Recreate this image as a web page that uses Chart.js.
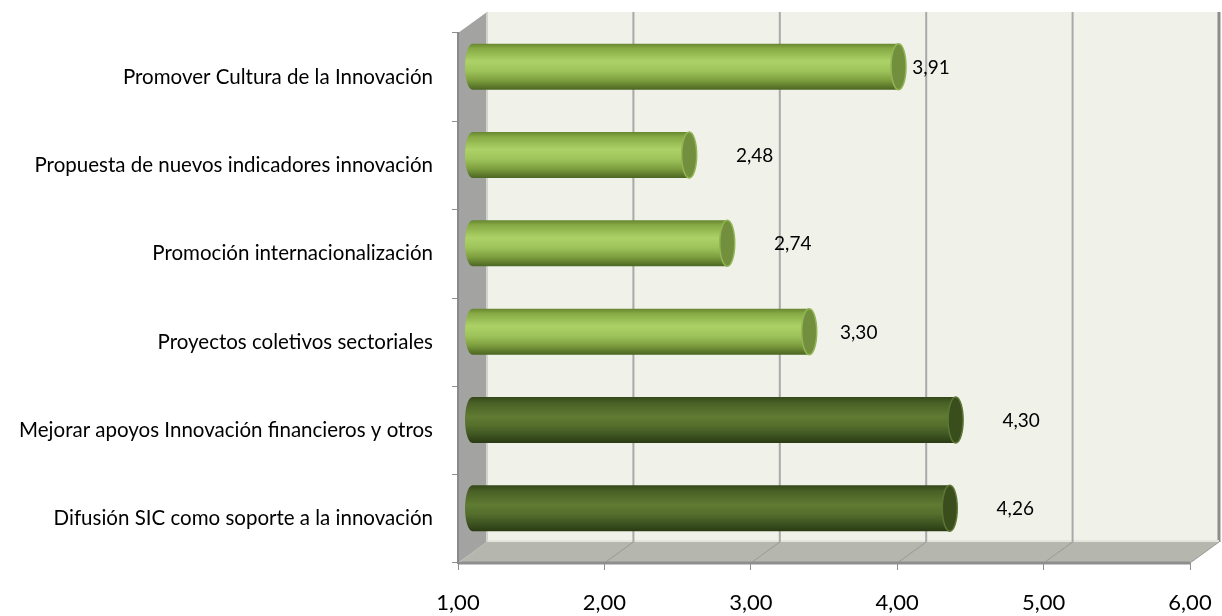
<!DOCTYPE html>
<html lang="es">
<head>
<meta charset="utf-8">
<title>Valoración de actuaciones</title>
<script src="https://cdn.jsdelivr.net/npm/chart.js@4.4.1/dist/chart.umd.min.js"></script>
<style>
  html, body { margin: 0; padding: 0; background: #fff; }
  canvas { display: block; }
</style>
</head>
<body>
<canvas id="chart" width="1222" height="616"></canvas>
<script>
const categories = [
  'Promover Cultura de la Innovación',
  'Propuesta de nuevos indicadores innovación',
  'Promoción internacionalización',
  'Proyectos coletivos sectoriales',
  'Mejorar apoyos Innovación financieros y otros',
  'Difusión SIC como soporte a la innovación'
];
const scores = [3.91, 2.48, 2.74, 3.30, 4.30, 4.26];
const axisTicks = [1, 2, 3, 4, 5, 6];

// oblique depth of the 3D box (back wall offset from the front plane)
const DEPTH_X = 29;
const DEPTH_Y = -21;

const fmt = (v) => v.toFixed(2).replace('.', ',');

const TONES = {
  light: {
    stops: [[0, '#66862f'], [0.1, '#86a944'], [0.38, '#acd267'], [0.6, '#9dc25a'],
            [0.8, '#7d9e3e'], [0.92, '#5f7c2d'], [1, '#4c6623']],
    cap: '#718f3d', capEdge: '#93b554'
  },
  dark: {
    stops: [[0, '#33471a'], [0.12, '#485f25'], [0.42, '#607b33'], [0.62, '#556f2c'],
            [0.85, '#3b5120'], [1, '#2a3a13']],
    cap: '#394e1c', capEdge: '#5d7634'
  }
};

function drawCylinder(ctx, x0, x1, yc, h, tone) {
  const top = yc - h / 2;
  const rx = 7.5;
  const g = ctx.createLinearGradient(0, top, 0, top + h);
  tone.stops.forEach(([p, c]) => g.addColorStop(p, c));
  ctx.fillStyle = g;
  ctx.beginPath();
  ctx.moveTo(x0, top);
  ctx.lineTo(x1, top);
  ctx.lineTo(x1, top + h);
  ctx.lineTo(x0, top + h);
  ctx.ellipse(x0, yc, rx, h / 2, 0, Math.PI / 2, Math.PI * 1.5);
  ctx.closePath();
  ctx.fill();

  ctx.beginPath();
  ctx.ellipse(x1, yc, rx, h / 2, 0, 0, Math.PI * 2);
  ctx.fillStyle = tone.cap;
  ctx.fill();
  ctx.lineWidth = 1.5;
  ctx.strokeStyle = tone.capEdge;
  ctx.stroke();
}

// walls and floor of the 3D box
const boxPlugin = {
  id: 'box3d',
  beforeDraw(chart) {
    const { ctx, chartArea: a, scales: { x } } = chart;
    const bx = DEPTH_X, by = DEPTH_Y;
    ctx.save();

    // back wall
    ctx.fillStyle = '#f0f2ea';
    ctx.fillRect(a.left + bx, a.top + by, a.right - a.left, a.bottom - a.top);
    ctx.strokeStyle = '#8c8c8c';
    ctx.lineWidth = 3;
    ctx.beginPath();
    ctx.moveTo(a.right + bx, a.top + by);
    ctx.lineTo(a.right + bx, a.bottom + by);
    ctx.stroke();

    // floor
    ctx.fillStyle = '#b5b6ae';
    ctx.beginPath();
    ctx.moveTo(a.left, a.bottom);
    ctx.lineTo(a.right, a.bottom);
    ctx.lineTo(a.right + bx, a.bottom + by);
    ctx.lineTo(a.left + bx, a.bottom + by);
    ctx.closePath();
    ctx.fill();
    ctx.fillStyle = '#e4e6de';
    ctx.fillRect(a.left + bx, a.bottom + by - 2, a.right - a.left, 2);

    // grid lines on back wall and floor
    axisTicks.slice(1, -1).forEach((t) => {
      const px = x.getPixelForValue(t);
      ctx.strokeStyle = '#a9a9a9';
      ctx.lineWidth = 2;
      ctx.beginPath();
      ctx.moveTo(px + bx, a.top + by);
      ctx.lineTo(px + bx, a.bottom + by);
      ctx.stroke();
      ctx.strokeStyle = '#9a9a94';
      ctx.lineWidth = 1;
      ctx.beginPath();
      ctx.moveTo(px + bx, a.bottom + by);
      ctx.lineTo(px, a.bottom);
      ctx.stroke();
    });
    ctx.strokeStyle = '#9a9a94';
    ctx.lineWidth = 1;
    ctx.beginPath();
    ctx.moveTo(a.right + bx, a.bottom + by);
    ctx.lineTo(a.right, a.bottom);
    ctx.stroke();

    // front edge of floor
    ctx.strokeStyle = '#8e8e8e';
    ctx.lineWidth = 3;
    ctx.beginPath();
    ctx.moveTo(a.left, a.bottom);
    ctx.lineTo(a.right, a.bottom);
    ctx.stroke();

    // left wall
    ctx.fillStyle = '#a3a3a1';
    ctx.beginPath();
    ctx.moveTo(a.left, a.top);
    ctx.lineTo(a.left + bx, a.top + by);
    ctx.lineTo(a.left + bx, a.bottom + by);
    ctx.lineTo(a.left, a.bottom);
    ctx.closePath();
    ctx.fill();
    ctx.fillStyle = '#d2d3cd';
    ctx.fillRect(a.left + bx - 1, a.top + by, 2, a.bottom - a.top);
    ctx.strokeStyle = '#bdbdb8';
    ctx.lineWidth = 1;
    ctx.beginPath();
    ctx.moveTo(a.left + bx, a.bottom + by);
    ctx.lineTo(a.left + 2, a.bottom - 1);
    ctx.stroke();

    ctx.restore();
  }
};

// cylinders sit halfway into the box, values written beside them
const cylinderPlugin = {
  id: 'cylinders',
  afterDatasetsDraw(chart, args, opts) {
    const { ctx, scales: { x } } = chart;
    const meta = chart.getDatasetMeta(0);
    const dx = DEPTH_X / 2, dy = DEPTH_Y / 2;
    const base = x.getPixelForValue(axisTicks[0]);
    ctx.save();
    meta.data.forEach((bar, i) => {
      const tone = TONES[opts.tones[i]];
      drawCylinder(ctx, base + dx, bar.x + dx, bar.y + dy, bar.height, tone);
    });
    ctx.font = '19px Lato';
    ctx.fillStyle = '#000';
    ctx.textAlign = 'center';
    ctx.textBaseline = 'middle';
    meta.data.forEach((bar, i) => {
      const lx = bar.x + opts.labelGap + (opts.labelNudge[i] || 0);
      ctx.fillText(fmt(scores[i]), lx, bar.y + dy + 1);
    });
    ctx.restore();
  }
};

new Chart(document.getElementById('chart'), {
  type: 'bar',
  data: {
    labels: categories,
    datasets: [{
      data: scores,
      backgroundColor: 'rgba(0,0,0,0)',
      borderWidth: 0,
      barPercentage: 0.52,
      categoryPercentage: 1
    }]
  },
  options: {
    indexAxis: 'y',
    responsive: false,
    devicePixelRatio: 1,
    animation: false,
    layout: { padding: { top: 33, right: 32, left: 0, bottom: 0 } },
    plugins: {
      legend: { display: false },
      tooltip: { enabled: false },
      cylinders: {
        tones: ['light', 'light', 'light', 'light', 'dark', 'dark'],
        labelGap: 80,
        labelNudge: [-33, 0, 0, -16, 0, 0]
      }
    },
    scales: {
      x: {
        min: axisTicks[0],
        max: axisTicks[axisTicks.length - 1],
        afterBuildTicks: (scale) => { scale.ticks = axisTicks.map((v) => ({ value: v })); },
        afterFit: (scale) => {
          scale.height = 53;
          scale.paddingLeft = 0;
          scale.paddingRight = 0;
        },
        ticks: {
          callback: (v) => fmt(v),
          color: '#000',
          font: { family: 'Lato', size: 22 },
          padding: 20
        },
        grid: { drawOnChartArea: false, tickLength: 7, color: '#8e8e8e', lineWidth: 1 },
        border: { display: false }
      },
      y: {
        afterFit: (scale) => { scale.width = 458; },
        ticks: {
          color: '#000',
          font: { family: 'Lato', size: 20.5 },
          padding: 19
        },
        grid: { drawOnChartArea: false, tickLength: 6, color: '#8e8e8e', lineWidth: 1 },
        border: { display: true, color: '#8a8a8a', width: 2 }
      }
    }
  },
  plugins: [boxPlugin, cylinderPlugin]
});
</script>
</body>
</html>
